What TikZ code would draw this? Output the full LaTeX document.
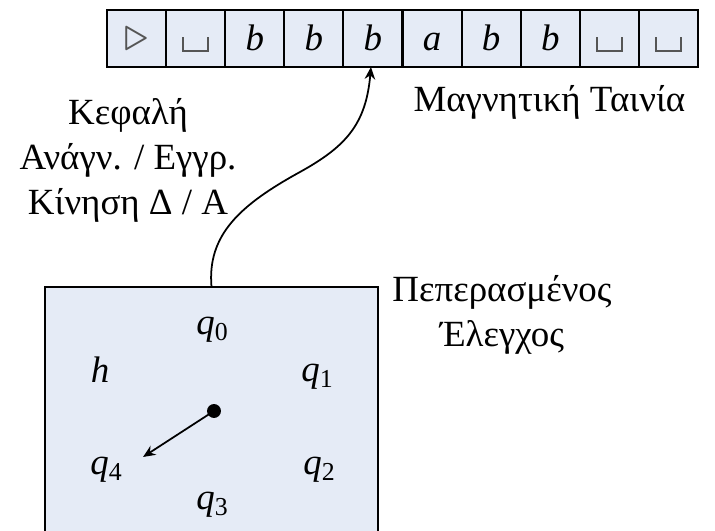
\documentclass[tikz,border=0pt]{standalone}
\usepackage{fontspec}
\setmainfont{Liberation Serif}
\usetikzlibrary{arrows.meta,positioning}
\definecolor{boxfill}{HTML}{E5EBF6}
\definecolor{symgray}{HTML}{555555}
\newcommand{\blanksym}{\tikz[baseline=0pt]\draw[symgray, line width=0.5pt] (0pt,3.8pt) -- (0pt,0pt) -- (7pt,0pt) -- (7pt,3.8pt);}
\newcommand{\qst}[1]{\textit{q}\textsubscript{#1}}

\begin{document}
\begin{tikzpicture}[x=0.01cm, y=-0.01cm, >=Stealth, line width=0.6pt,
    font=\fontsize{10.5}{12.8}\selectfont,
    cell/.style={draw, fill=boxfill, minimum width=0.591cm, minimum height=0.57cm, inner sep=0pt, outer sep=0pt, text height=7pt, text depth=0pt},
    ctrl/.style={draw, fill=boxfill, minimum width=3.33cm, minimum height=3.0cm, inner sep=0pt, outer sep=0pt},
    headarrow/.style={-{Stealth[length=3.5pt, width=3pt]}, line width=0.5pt}]
  \useasboundingbox (0,0) rectangle (715,531);
  % tape
  \foreach \sym [count=\i] in {{\color{symgray}\scalebox{1.25}{$\triangleright$}}, \blanksym, \textit{b}, \textit{b}, \textit{b}, \textit{a}, \textit{b}, \textit{b}, \blanksym, \blanksym}
    \node[cell] (c\i) at ({107+59.1*(\i-0.5)},38.5) {\sym};
  \node[below left=0.06cm and 0cm of c10.south east] (tapelbl) {Μαγνητική Ταινία};
  % finite control
  \begin{scope}
    \clip (0,0) rectangle (715,531);
    \node[ctrl] (ctrl) at (211.5,437) {};
  \end{scope}
  \node[align=center] (ctrllbl) at (502,315) {Πεπερασμένος\\Έλεγχος};
  \node (q0) at (213,330) {\qst{0}};
  \node (h) at (100,370) {\textit{h}};
  \node (q1) at (318,377) {\qst{1}};
  \node (q4) at (107,470) {\qst{4}};
  \node (q2) at (320,470) {\qst{2}};
  \node (q3) at (213,505) {\qst{3}};
  \node[circle, fill, inner sep=1.4pt] (hand) at (214,411) {};
  \coordinate (handtip) at (143,457);
  \draw[headarrow] (hand.center) -- (handtip);
  % head
  \node[align=center] (headlbl) at (128,160) {Κεφαλή\\Ανάγν. / Εγγρ.\\Κίνηση Δ / Α};
  \draw[headarrow] (ctrl.north) .. controls (207,235) and (240,205) .. (300,172)
    .. controls (345,147) and (366,125) .. ([xshift=-0.02cm]c5.south);
\end{tikzpicture}
\end{document}
